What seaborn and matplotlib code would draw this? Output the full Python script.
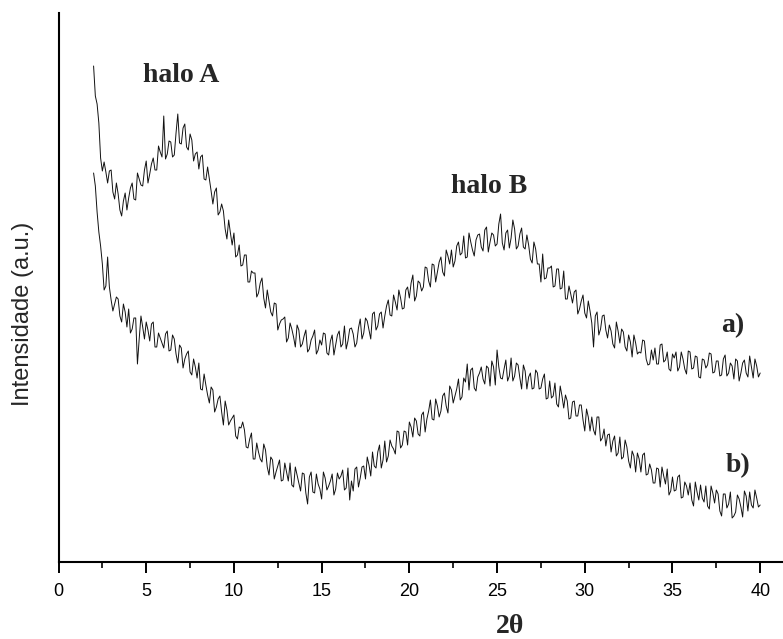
import numpy as np
import pandas as pd
import matplotlib
matplotlib.use('Agg')
import matplotlib.pyplot as plt
import seaborn as sns
from matplotlib.ticker import MultipleLocator

# 2theta sampling: even grid 2.0, 2.2, ... 40.0 and odd grid 2.1, 2.3, ... 39.9
theta_even = np.round(np.arange(2.0, 40.01, 0.2), 1)
theta_odd = np.round(np.arange(2.1, 39.91, 0.2), 1)

# intensities (a.u.)
curve_a_even = [
    496, 458, 404, 400, 379, 392, 363, 368, 346, 369,
    364, 379, 362, 383, 376, 401, 388, 404, 392, 410,
    446, 408, 420, 407, 448, 418, 438, 412, 422, 408,
    393, 407, 382, 383, 358, 374, 350, 351, 323, 329,
    329, 307, 296, 307, 280, 291, 289, 269, 284, 254,
    261, 246, 258, 238, 243, 220, 239, 225, 237, 215,
    226, 210, 222, 232, 212, 217, 228, 207, 227, 217,
    231, 218, 213, 233, 228, 219, 243, 229, 241, 223,
    250, 236, 250, 246, 262, 246, 260, 272, 253, 272,
    264, 287, 266, 279, 275, 294, 275, 297, 290, 305,
    286, 306, 312, 301, 320, 309, 304, 329, 312, 322,
    328, 311, 335, 320, 327, 318, 348, 312, 332, 324,
    333, 316, 334, 313, 317, 299, 313, 298, 308, 284,
    294, 275, 293, 273, 291, 263, 268, 270, 248, 261,
    249, 261, 239, 246, 227, 246, 232, 237, 218, 240,
    219, 230, 211, 220, 227, 208, 209, 221, 197, 212,
    214, 198, 218, 202, 193, 208, 210, 195, 203, 188,
    210, 194, 205, 184, 202, 197, 208, 190, 201, 187,
    207, 189, 196, 203, 181, 199, 189, 206, 184, 196,
    189,
]
curve_a_odd = [
    466, 439, 391, 390, 391, 370, 379, 352, 361, 352,
    374, 363, 389, 377, 392, 379, 398, 392, 416, 405,
    403, 421, 405, 429, 419, 434, 415, 428, 401, 410,
    405, 383, 395, 371, 370, 347, 358, 333, 342, 317,
    305, 317, 297, 307, 280, 289, 265, 279, 264, 272,
    250, 259, 232, 242, 245, 224, 233, 215, 232, 218,
    232, 213, 226, 208, 222, 229, 209, 221, 207, 227,
    215, 236, 221, 234, 215, 234, 223, 244, 232, 248,
    232, 248, 234, 256, 247, 267, 252, 264, 254, 275,
    279, 261, 281, 271, 295, 281, 298, 280, 300, 290,
    312, 298, 295, 316, 307, 326, 305, 320, 306, 327,
    315, 332, 310, 329, 316, 338, 319, 329, 314, 342,
    313, 328, 315, 327, 303, 320, 298, 280, 283, 294,
    296, 276, 293, 274, 263, 276, 259, 272, 253, 267,
    244, 251, 215, 250, 233, 247, 224, 231, 214, 231,
    233, 215, 227, 205, 219, 210, 222, 203, 198, 202,
    198, 217, 200, 210, 191, 204, 191, 210, 193, 211,
    193, 206, 185, 203, 194, 209, 189, 201, 186, 203,
    186, 199, 183, 201, 189, 202, 185, 195, 203, 185,
]

curve_b_even = [
    389, 350, 316, 272, 305, 262, 258, 263, 240, 250,
    253, 233, 244, 223, 235, 240, 221, 240, 215, 224,
    214, 231, 212, 223, 199, 214, 203, 211, 187, 195,
    199, 172, 177, 159, 172, 155, 166, 137, 152, 141,
    147, 123, 134, 132, 114, 129, 103, 110, 100, 112,
    87, 102, 90, 102, 82, 90, 99, 75, 87, 71,
    88, 58, 90, 69, 78, 63, 84, 76, 88, 73,
    83, 92, 74, 62, 71, 95, 84, 96, 105, 86,
    96, 110, 94, 121, 106, 116, 108, 130, 117, 130,
    140, 125, 141, 126, 150, 143, 162, 142, 156, 151,
    169, 149, 172, 166, 183, 165, 180, 172, 194, 171,
    189, 183, 196, 176, 195, 212, 184, 193, 181, 204,
    186, 197, 173, 191, 185, 173, 192, 173, 183, 163,
    181, 166, 158, 176, 154, 161, 144, 161, 146, 157,
    131, 145, 145, 127, 145, 124, 116, 128, 121, 106,
    125, 105, 115, 94, 106, 109, 90, 109, 88, 92,
    79, 93, 95, 78, 67, 85, 72, 87, 65, 76,
    79, 56, 70, 77, 60, 56, 76, 59, 68, 46,
    68, 58, 44, 50, 63, 45, 66, 70, 54, 64,
    57,
]
curve_b_odd = [
    376, 330, 298, 276, 275, 251, 265, 246, 258, 235,
    229, 244, 198, 246, 223, 232, 238, 215, 229, 219,
    228, 211, 227, 208, 217, 194, 208, 190, 203, 184,
    173, 188, 167, 175, 150, 163, 150, 161, 137, 144,
    126, 135, 140, 115, 123, 103, 119, 103, 118, 95,
    105, 83, 96, 81, 99, 81, 77, 95, 79, 89,
    69, 85, 70, 88, 73, 90, 72, 81, 67, 89,
    86, 72, 94, 81, 93, 75, 95, 83, 97, 110,
    94, 117, 102, 100, 122, 113, 131, 114, 131, 117,
    135, 144, 128, 147, 130, 151, 143, 163, 145, 166,
    156, 176, 159, 173, 162, 184, 198, 192, 174, 185,
    195, 178, 194, 201, 177, 195, 183, 202, 186, 181,
    199, 184, 197, 173, 189, 174, 189, 174, 188, 164,
    164, 179, 155, 166, 167, 143, 160, 146, 157, 142,
    153, 131, 132, 145, 121, 133, 127, 110, 126, 109,
    103, 122, 101, 111, 90, 103, 107, 87, 98, 79,
    94, 75, 86, 93, 71, 71, 85, 64, 80, 67,
    62, 80, 62, 64, 76, 53, 69, 72, 51, 68,
    54, 70, 46, 67, 55, 71, 51, 57, 72, 55,
]

sample_labels = ['a)', 'b)']
halo_labels = ['halo A', 'halo B']

frames = []
for name, even, odd in [('a', curve_a_even, curve_a_odd), ('b', curve_b_even, curve_b_odd)]:
    part = pd.DataFrame({
        '2θ': np.concatenate([theta_even, theta_odd]),
        'Intensidade': even + odd,
    })
    part['amostra'] = name
    frames.append(part.sort_values('2θ'))
df = pd.concat(frames, ignore_index=True)

sns.set_style('ticks')
plt.rcParams['font.family'] = ['Liberation Sans', 'DejaVu Sans']

fig = plt.figure(figsize=(7.83, 6.39), dpi=100)
ax = fig.add_axes([58.5 / 783, 77 / 639, 724.5 / 783, 549 / 639])

sns.lineplot(data=df, x='2θ', y='Intensidade', units='amostra', estimator=None,
             color='#111111', lw=0.7, sort=False, ax=ax, legend=False)

ax.set_xlim(0, 41.3)
ax.set_ylim(0, 549)
ax.xaxis.set_major_locator(MultipleLocator(5))
ax.xaxis.set_minor_locator(MultipleLocator(2.5))
ax.set_yticks([])
ax.set_xlabel('')
ax.set_ylabel('')
sns.despine(ax=ax)
for side in ['left', 'bottom']:
    ax.spines[side].set_linewidth(1.5)
    ax.spines[side].set_color('black')
ax.tick_params(axis='x', which='major', direction='out', length=8, width=1.4,
               labelsize=13, pad=7, colors='black')
ax.tick_params(axis='x', which='minor', direction='out', length=4.5, width=1.4)

serif = dict(family=['Liberation Serif', 'DejaVu Serif'], weight='bold', fontsize=20)
ax.text(6.98, 480, halo_labels[0], ha='center', va='baseline', **serif)
ax.text(24.54, 369, halo_labels[1], ha='center', va='baseline', **serif)
ax.text(38.45, 230, sample_labels[0], ha='center', va='baseline', **serif)
ax.text(38.74, 90, sample_labels[1], ha='center', va='baseline', **serif)

fig.text(510 / 783, 0, '2θ', ha='center', va='bottom', **serif)
fig.text(23 / 783, 325 / 639, 'Intensidade (a.u.)', rotation=90,
         ha='center', va='center', fontsize=17)

fig.savefig('out.png', dpi=100)
